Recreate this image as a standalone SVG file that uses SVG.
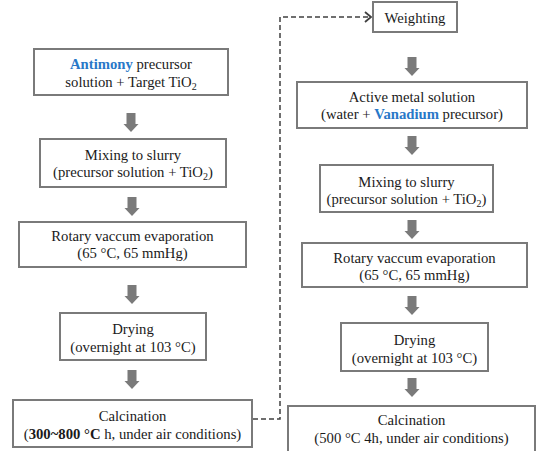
<svg xmlns="http://www.w3.org/2000/svg" width="536" height="451" viewBox="0 0 536 451">
<style>
.box{fill:#fff;stroke:#7a7a7a;stroke-width:2}
.t{font-size:14.7px;fill:#1a1a1a;text-anchor:middle}
.b{font-weight:bold}
.blue{fill:#2878c8;font-weight:bold}
.sub{font-size:10px}
.arr{fill:#7a7a7a}
.dash{fill:none;stroke:#404040;stroke-width:1.5;stroke-dasharray:5 3}
</style>
<defs>
<path id="blk" d="M-4.5,0 H4.5 V11 H7.5 L0,19 L-7.5,11 H-4.5 Z"/>
</defs>
<rect width="536" height="451" fill="#fff"/>
<g id="connectors">
<use href="#blk" class="arr" x="131" y="113"/>
<use href="#blk" class="arr" x="132" y="197"/>
<use href="#blk" class="arr" x="132" y="285"/>
<use href="#blk" class="arr" x="132" y="370"/>
<use href="#blk" class="arr" x="412" y="57"/>
<use href="#blk" class="arr" x="412" y="136"/>
<use href="#blk" class="arr" x="412" y="220"/>
<use href="#blk" class="arr" x="412" y="296"/>
<use href="#blk" class="arr" x="412" y="378"/>
<path class="dash" d="M253,419 H280 V17 H370"/>
<path d="M365,12 L371,17 L365,22" fill="none" stroke="#404040" stroke-width="1.8"/>
</g>
<g id="n1">
<rect class="box" x="34" y="49" width="194" height="46"/>
<text class="t" font-family="Liberation Serif" x="131" y="69"><tspan class="blue">Antimony</tspan>  precursor</text>
<text class="t" font-family="Liberation Serif" x="131" y="87">solution + Target TiO<tspan class="sub" dy="3">2</tspan></text>
</g>
<g id="n2">
<rect class="box" x="40" y="139" width="186" height="48"/>
<text class="t" font-family="Liberation Serif" x="133" y="160">Mixing to slurry</text>
<text class="t" font-family="Liberation Serif" x="133" y="177">(precursor solution + TiO<tspan class="sub" dy="3">2</tspan><tspan dy="-3">)</tspan></text>
</g>
<g id="n3">
<rect class="box" x="19" y="222" width="227" height="45"/>
<text class="t" font-family="Liberation Serif" x="132.5" y="241">Rotary vaccum evaporation</text>
<text class="t" font-family="Liberation Serif" x="132.5" y="258">(65 °C, 65 mmHg)</text>
</g>
<g id="n4">
<rect class="box" x="60" y="313" width="146" height="47"/>
<text class="t" font-family="Liberation Serif" x="133" y="334">Drying</text>
<text class="t" font-family="Liberation Serif" x="133" y="352">(overnight at 103 °C)</text>
</g>
<g id="n5">
<rect class="box" x="13" y="400" width="239" height="47"/>
<text class="t" font-family="Liberation Serif" x="132.5" y="421">Calcination</text>
<text class="t" font-family="Liberation Serif" x="132.5" y="439">(<tspan class="b">300~800 °C</tspan>  h, under air conditions)</text>
</g>
<g id="n6">
<rect class="box" x="373" y="2" width="84" height="30"/>
<text class="t" font-family="Liberation Serif" x="415" y="23">Weighting</text>
</g>
<g id="n7">
<rect class="box" x="297" y="82" width="230" height="46"/>
<text class="t" font-family="Liberation Serif" x="412" y="102">Active metal  solution</text>
<text class="t" font-family="Liberation Serif" x="412" y="119">(water + <tspan class="blue">Vanadium</tspan>   precursor)</text>
</g>
<g id="n8">
<rect class="box" x="320" y="165" width="173" height="47"/>
<text class="t" font-family="Liberation Serif" x="406.5" y="187">Mixing to slurry</text>
<text class="t" font-family="Liberation Serif" x="406.5" y="204">(precursor solution + TiO<tspan class="sub" dy="3">2</tspan><tspan dy="-3">)</tspan></text>
</g>
<g id="n9">
<rect class="box" x="302" y="243" width="225" height="44"/>
<text class="t" font-family="Liberation Serif" x="414.5" y="263">Rotary vaccum evaporation</text>
<text class="t" font-family="Liberation Serif" x="414.5" y="280">(65 °C, 65 mmHg)</text>
</g>
<g id="n10">
<rect class="box" x="341" y="323" width="147" height="48"/>
<text class="t" font-family="Liberation Serif" x="414.5" y="345">Drying</text>
<text class="t" font-family="Liberation Serif" x="414.5" y="363">(overnight at 103 °C)</text>
</g>
<g id="n11">
<rect class="box" x="288" y="406" width="247" height="50"/>
<text class="t" font-family="Liberation Serif" x="411.5" y="425">Calcination</text>
<text class="t" font-family="Liberation Serif" x="411.5" y="443">(500 °C 4h, under air conditions)</text>
</g>
</svg>
